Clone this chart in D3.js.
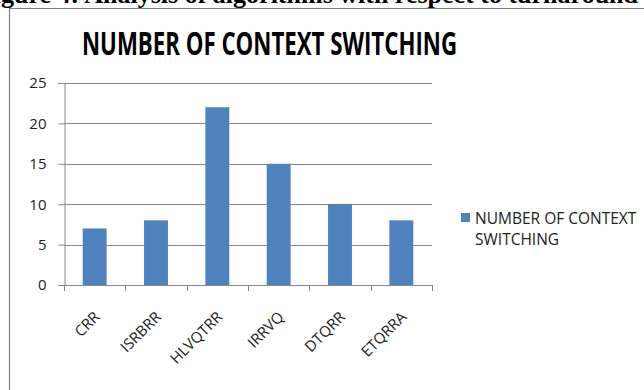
<html>
<head>
<script src="https://d3js.org/d3.v7.min.js"></script>
<style>
  body { margin: 0; background: #fff; }
  text { font-family: "Open Sans", sans-serif; }
</style>
</head>
<body>
<div id="chart"></div>
<script>
// chart data
const categories = ["CRR", "ISRBRR", "HLVQTRR", "IRRVQ", "DTQRR", "ETQRRA"];
const switches = [7, 8, 22, 15, 10, 8];
const yTicks = [0, 5, 10, 15, 20, 25];
const seriesName = "NUMBER OF CONTEXT SWITCHING";

const W = 644, H = 390;
const plot = { left: 64, right: 432, top: 83, bottom: 285 };

const svg = d3.select("#chart").append("svg")
  .attr("width", W).attr("height", H);

// caption from the page above, partly cut off at the top
const capFont = t => t.style("font-family", "'Liberation Serif', serif")
  .style("font-weight", "bold").style("font-size", "26px");
const cap = svg.append("text")
  .attr("y", 3)
  .attr("fill", "#000")
  .text("Figure 4: Analysis of algorithms with respect to turnaround time")
  .call(capFont);
// shift so that "gure" starts at the left edge
const tmp = svg.append("text").text("Fi").call(capFont);
const fiW = tmp.node().getComputedTextLength();
tmp.remove();
cap.attr("x", -fiW + 1);

// chart frame (left and top edges only visible)
svg.append("line").attr("x1", 9).attr("x2", W).attr("y1", 8.5).attr("y2", 8.5)
  .attr("stroke", "#7f7f7f").attr("stroke-width", 1.2);
svg.append("line").attr("x1", 9.5).attr("x2", 9.5).attr("y1", 8).attr("y2", H)
  .attr("stroke", "#7f7f7f").attr("stroke-width", 1.2);

// title
svg.append("text")
  .attr("x", 82).attr("y", 55)
  .attr("textLength", 375).attr("lengthAdjust", "spacingAndGlyphs")
  .style("font-weight", "bold").style("font-size", "32px")
  .attr("fill", "#000")
  .text(seriesName);

const x = d3.scaleBand().domain(categories)
  .range([plot.left, plot.right]).paddingInner(0.61).paddingOuter(0.305);
const y = d3.scaleLinear().domain([0, 25]).range([plot.bottom, plot.top]);

// gridlines
svg.append("g").selectAll("line").data(yTicks.slice(1)).join("line")
  .attr("x1", plot.left).attr("x2", plot.right)
  .attr("y1", d => Math.round(y(d)) + 0.5).attr("y2", d => Math.round(y(d)) + 0.5)
  .attr("stroke", "#868686").attr("stroke-width", 1);

// y axis
const yAxis = svg.append("g")
  .attr("transform", `translate(${plot.left + 0.5},0)`)
  .call(d3.axisLeft(y).tickValues(yTicks).tickSize(6).tickPadding(12));
yAxis.select(".domain").attr("stroke", "#868686");
yAxis.selectAll(".tick line").attr("stroke", "#868686");
yAxis.selectAll(".tick text").style("font-size", "15px").attr("fill", "#222")
  .style("font-family", "'Open Sans', sans-serif");

// bars
svg.append("g").selectAll("rect").data(switches).join("rect")
  .attr("x", (d, i) => x(categories[i]))
  .attr("y", d => y(d))
  .attr("width", x.bandwidth())
  .attr("height", d => y(0) - y(d))
  .attr("fill", "#4f81bd");

// x axis line and tick marks at category boundaries
const step = x.step();
const bounds = d3.range(categories.length + 1).map(i => plot.left + i * step);
svg.append("line").attr("x1", plot.left).attr("x2", plot.right)
  .attr("y1", plot.bottom + 0.5).attr("y2", plot.bottom + 0.5)
  .attr("stroke", "#868686");
svg.append("g").selectAll("line").data(bounds).join("line")
  .attr("x1", d => Math.round(d) + 0.5).attr("x2", d => Math.round(d) + 0.5)
  .attr("y1", plot.bottom).attr("y2", plot.bottom + 6)
  .attr("stroke", "#868686");

// rotated category labels
svg.append("g").selectAll("text").data(categories).join("text")
  .attr("transform", d => `translate(${x(d) + x.bandwidth() / 2 + 6},${plot.bottom + 33}) rotate(-45)`)
  .attr("text-anchor", "end")
  .style("font-size", "15px").attr("fill", "#222")
  .text(d => d);

// legend
const lg = svg.append("g").attr("transform", "translate(461,213)");
lg.append("rect").attr("width", 9).attr("height", 9).attr("fill", "#4f81bd");
lg.append("text").attr("x", 14).attr("y", 11)
  .style("font-size", "15.5px").attr("fill", "#222")
  .text("NUMBER OF CONTEXT");
lg.append("text").attr("x", 14).attr("y", 32)
  .style("font-size", "15.5px").attr("fill", "#222")
  .text("SWITCHING");
</script>
</body>
</html>
